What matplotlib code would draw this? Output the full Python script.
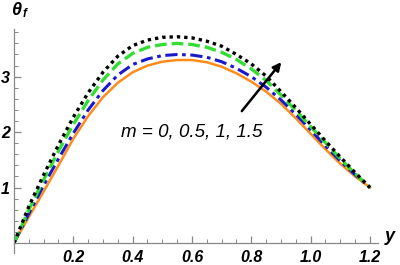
import matplotlib
matplotlib.use("Agg")
import matplotlib.pyplot as plt
from matplotlib.ticker import MultipleLocator

# values
y_vals = [0.00, 0.05, 0.10, 0.15, 0.20, 0.25, 0.30, 0.35, 0.40, 0.45, 0.50, 0.55,
          0.60, 0.65, 0.70, 0.75, 0.80, 0.85, 0.90, 0.95, 1.00, 1.05, 1.10, 1.15, 1.20]

theta_m0 = [0.00, 0.47, 0.93, 1.40, 1.88, 2.29, 2.63, 2.89, 3.08, 3.20, 3.27, 3.30,
            3.30, 3.26, 3.18, 3.06, 2.91, 2.73, 2.51, 2.25, 1.97, 1.69, 1.43, 1.20, 1.00]
theta_m05 = [0.00, 0.53, 1.04, 1.52, 1.98, 2.40, 2.75, 3.03, 3.22, 3.32, 3.38, 3.40,
             3.39, 3.35, 3.27, 3.15, 3.00, 2.81, 2.58, 2.32, 2.04, 1.75, 1.48, 1.23, 1.00]
theta_m1 = [0.00, 0.60, 1.14, 1.66, 2.14, 2.57, 2.94, 3.23, 3.42, 3.53, 3.58, 3.60,
            3.58, 3.53, 3.44, 3.31, 3.14, 2.93, 2.67, 2.39, 2.10, 1.81, 1.52, 1.25, 1.00]
theta_m15 = [0.00, 0.66, 1.23, 1.77, 2.27, 2.71, 3.08, 3.37, 3.56, 3.66, 3.71, 3.72,
             3.70, 3.64, 3.55, 3.40, 3.23, 3.01, 2.73, 2.44, 2.14, 1.84, 1.55, 1.27, 1.00]

x_ticks = [0.2, 0.4, 0.6, 0.8, 1.0, 1.2]
x_tick_labels = ["0.2", "0.4", "0.6", "0.8", "1.0", "1.2"]
y_ticks = [1, 2, 3]
y_tick_labels = ["1", "2", "3"]

plt.rcParams["font.family"] = ["Liberation Sans", "DejaVu Sans"]

fig = plt.figure(figsize=(4.0, 2.65), dpi=100)
ax = fig.add_axes([0.035, 0.0453, 0.91, 0.8453])

ax.plot(y_vals, theta_m0, color="#ff8c1a", lw=1.8, ls="-")
ax.plot(y_vals, theta_m05, color="#1a1acc", lw=2.2, ls=(0, (4, 1.5, 1.2, 1.5)))
ax.plot(y_vals, theta_m1, color="#33dd33", lw=2.4, ls=(0, (3.5, 1.5)))
ax.plot(y_vals, theta_m15, color="black", lw=2.4, ls=(0, (1, 1.2)))

ax.set_xlim(0, 1.227)
ax.set_ylim(-0.18, 3.86)

ax.spines["left"].set_position(("data", 0))
ax.spines["bottom"].set_position(("data", 0))
ax.spines["top"].set_visible(False)
ax.spines["right"].set_visible(False)
for s in ("left", "bottom"):
    ax.spines[s].set_color("#888888")
    ax.spines[s].set_linewidth(0.9)

ax.set_xticks(x_ticks)
ax.set_xticklabels(x_tick_labels)
ax.set_yticks(y_ticks)
ax.set_yticklabels(y_tick_labels)
ax.xaxis.set_minor_locator(MultipleLocator(0.05))
ax.yaxis.set_minor_locator(MultipleLocator(0.2))
ax.tick_params(which="major", direction="in", length=5, width=0.9, color="#888888")
ax.tick_params(which="minor", direction="in", length=3, width=0.7, color="#888888")
ax.tick_params(axis="x", pad=5)
ax.tick_params(axis="y", pad=3)
for lab in ax.get_xticklabels() + ax.get_yticklabels():
    lab.set_fontsize(11.5)
    lab.set_fontweight("bold")
    lab.set_fontstyle("italic")

# axis labels in Mathematica style
fig.text(0.962, 0.075, "y", fontsize=13, fontweight="bold", fontstyle="italic",
         ha="left", va="bottom")
fig.text(0.028, 0.93, "θ", fontsize=13, fontweight="bold", fontstyle="italic",
         ha="left", va="bottom")
fig.text(0.056, 0.925, "f", fontsize=8.5, fontweight="bold", fontstyle="italic",
         ha="left", va="bottom")

ax.text(0.6, 2.0, "m = 0, 0.5, 1, 1.5", fontsize=13.5, fontstyle="italic",
        ha="center", va="center")
ax.annotate("", xy=(0.907, 3.30), xytext=(0.762, 2.34),
            arrowprops=dict(arrowstyle="-|>", color="black", lw=1.8,
                            mutation_scale=12))

fig.savefig("out.png", dpi=100)
